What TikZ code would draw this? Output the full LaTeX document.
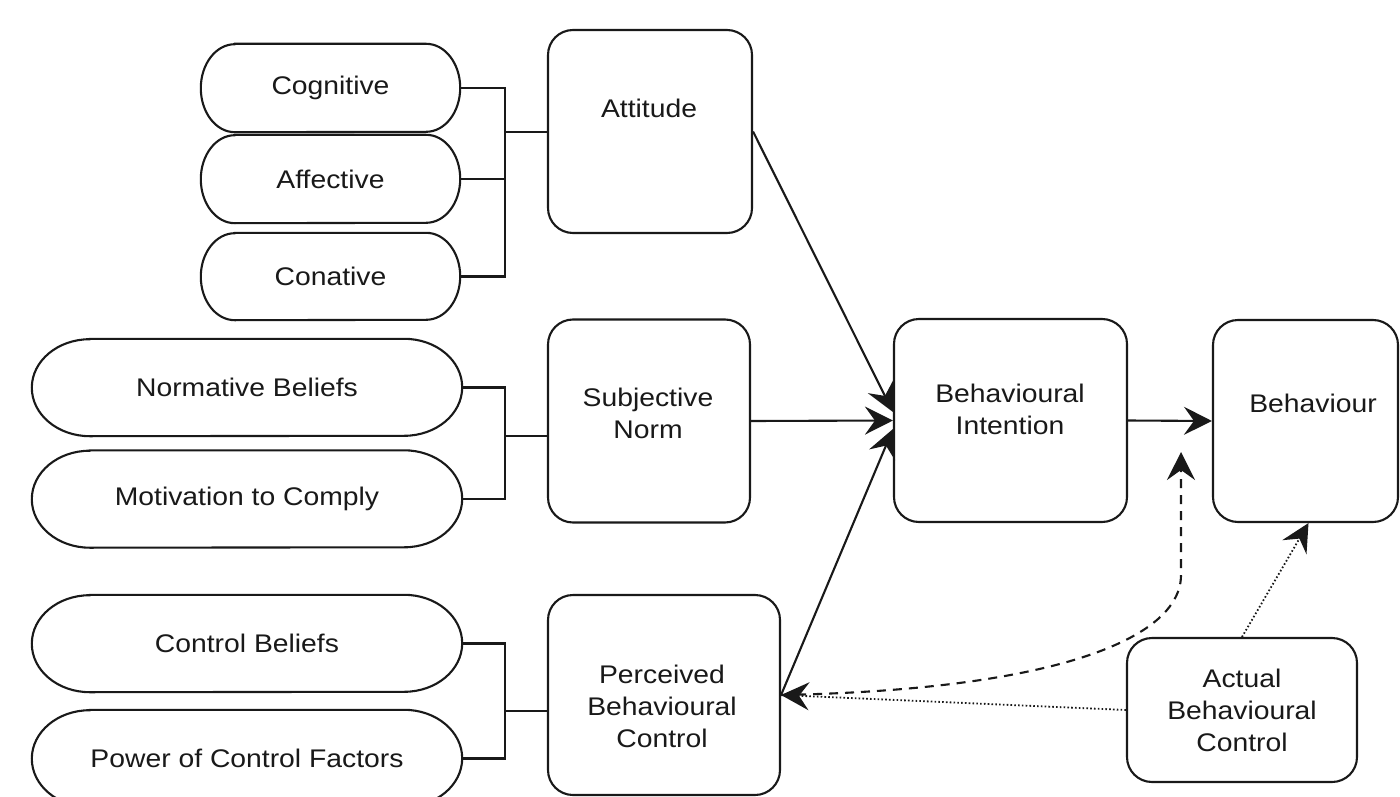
\documentclass[tikz,border=0pt]{standalone}
\usepackage{fontspec}
\setmainfont{Liberation Sans}[FakeStretch=1.11]
\usetikzlibrary{arrows.meta}
\newcommand\stadiumoutline[3]{%
  \draw[ln] ([xshift=#2]#1.north west) -- ([xshift=-#2]#1.north east)
    arc[start angle=90,end angle=-90,x radius=#2,y radius=#3]
    -- ([xshift=#2]#1.south west)
    arc[start angle=270,end angle=90,x radius=#2,y radius=#3] -- cycle;}
\begin{document}
\begin{tikzpicture}[x=1pt,y=1pt,
  every node/.style={font=\fontsize{25.5pt}{32pt}\selectfont, inner sep=0pt, align=center, text=black!90},
  ln/.style={line width=2.1pt, draw=black!90},
  box/.style 2 args={draw=black!90, line width=2.1pt, rounded corners=25pt, minimum width=#1, minimum height=#2},
  stad/.style 2 args={rectangle, minimum width=#1, minimum height=#2},
  txt/.style={},
  arr/.style={-{Stealth[length=28pt,width=28pt,inset=10pt]}},
  dsh/.style={dash pattern=on 9pt off 7pt},
  dot/.style={line width=1.8pt, dash pattern=on 1.6pt off 2.2pt}]
\fill[white] (0,0) rectangle (1400,-797);
\useasboundingbox (0,0) rectangle (1400,-797);

% stadium nodes
\node[stad={259pt}{88pt}] (cog) at (330.5,-88) {Cognitive};
\node[stad={259pt}{88pt}] (aff) at (330.5,-179) {Affective};
\node[stad={259pt}{87pt}] (con) at (330.5,-276.5) {Conative};
\node[stad={430pt}{97pt}] (nb) at (247,-387.5) {Normative Beliefs};
\node[stad={430pt}{97pt}] (mc) at (247,-499) {Motivation to Comply};
\node[stad={430pt}{97pt}] (cb) at (247,-643.5) {Control Beliefs};
\node[stad={430pt}{97pt}] (pcf) at (247,-758.5) {Power of Control Factors};
\stadiumoutline{cog}{34}{44}
\stadiumoutline{aff}{34}{44}
\stadiumoutline{con}{34}{43.5}
\stadiumoutline{nb}{58}{48.5}
\stadiumoutline{mc}{58}{48.5}
\stadiumoutline{cb}{58}{48.5}
\stadiumoutline{pcf}{58}{48.5}

% boxes
\node[box={204pt}{203pt}] (att) at (650,-131.5) {};
\node[txt] (attT) at (649,-108) {Attitude};
\node[box={202pt}{203pt}] (sn) at (649,-421) {};
\node[txt] (snT) at (648,-413) {Subjective\\Norm};
\node[box={232pt}{200pt}] (pbc) at (664,-695) {};
\node[txt] (pbcT) at (662,-706) {Perceived\\Behavioural\\Control};
\node[box={233pt}{203pt}] (bi) at (1010.5,-420.5) {};
\node[txt] (biT) at (1010,-409) {Behavioural\\Intention};
\node[box={185pt}{202pt}] (beh) at (1305.5,-421) {};
\node[txt] (behT) at (1313,-403) {Behaviour};
\node[box={230pt}{144pt}] (abc) at (1242,-710) {Actual\\Behavioural\\Control};

% brackets
\coordinate (ja) at (505,-132);
\draw[ln] (cog.east) -| (ja) |- (con.east);
\draw[ln] (aff.east) -- (aff.east -| ja);
\draw[ln] (ja) -- (ja -| att.west);
\coordinate (jn) at (505,-436);
\draw[ln] (nb.east) -| (jn) |- (mc.east);
\draw[ln] (jn) -- (jn -| sn.west);
\coordinate (jp) at (505,-711);
\draw[ln] (cb.east) -| (jp) |- (pcf.east);
\draw[ln] (jp) -- (jp -| pbc.west);

% arrows
\draw[ln,arr] (att.east) -- ([yshift=8.5]bi.west);
\draw[ln,arr] (sn.east) -- (bi.west);
\draw[ln,arr] (pbc.east) -- ([yshift=-8.5]bi.west);
\draw[ln,arr] (bi.east) -- (beh.west);
\coordinate (mod) at (1181,-452);
\draw[ln,dsh,arr] (pbc.east) .. controls (1050,-690) and (1181,-640) .. (1181,-575) -- (mod);
\draw[ln,dot,arr] (abc.west) -- (pbc.east);
\draw[ln,dot,arr] (abc.north) -- ([xshift=3]beh.south);
\end{tikzpicture}
\end{document}
